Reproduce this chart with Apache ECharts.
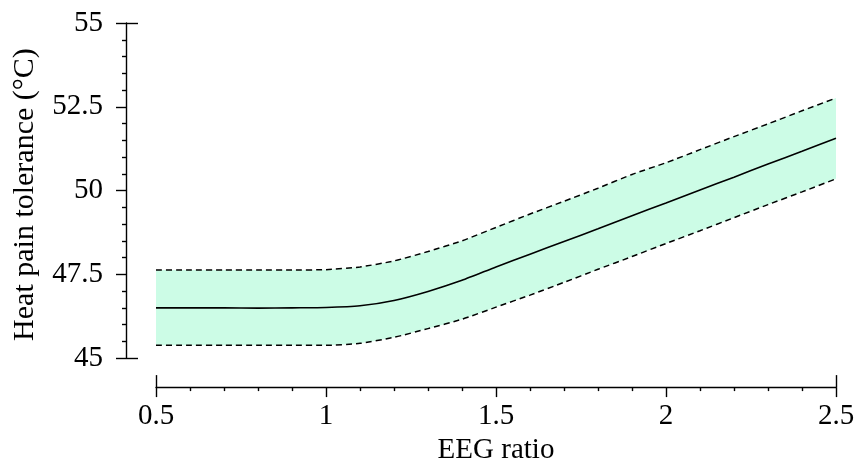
<!DOCTYPE html>
<html>
<head>
<meta charset="utf-8">
<script src="https://cdn.jsdelivr.net/npm/echarts@6/dist/echarts.min.js"></script>
<style>html,body{margin:0;padding:0;background:#fff;}#c{width:858px;height:470px;}</style>
</head>
<body>
<div id="c"></div>
<script>
// ---- data ----
const eegRatio = [0.5,0.6,0.7,0.8,0.9,1.0,1.1,1.2,1.3,1.4,1.5,1.6,1.7,1.8,1.9,2.0,2.1,2.2,2.3,2.4,2.5];
const fitMean  = [46.50,46.50,46.50,46.49,46.50,46.51,46.56,46.72,46.99,47.32,47.72,48.10,48.48,48.86,49.25,49.63,50.02,50.40,50.79,51.17,51.56];
const ciUpper  = [47.63,47.63,47.63,47.63,47.63,47.64,47.72,47.90,48.18,48.50,48.90,49.30,49.68,50.07,50.48,50.83,51.22,51.61,51.99,52.38,52.76];
const ciLower  = [45.38,45.38,45.38,45.38,45.38,45.38,45.44,45.62,45.88,46.16,46.52,46.88,47.26,47.65,48.03,48.42,48.80,49.19,49.58,49.96,50.35];
const xMin = 0.5, xMax = 2.5, xStep = 0.5;
const yMin = 45, yMax = 55, yStep = 2.5;
const xTitle = 'EEG ratio';
const yTitle = 'Heat pain tolerance (°C)';

const font = 'Liberation Serif';
const fs = 29;
const fsTitleY = 30;
const pair = (ys) => eegRatio.map((x, i) => [x, ys[i]]);

const lineCol = '#000';
const smoothAmt = 0.2;

const chart = echarts.init(document.getElementById('c'), null, {renderer: 'canvas'});
chart.setOption({
  animation: false,
  backgroundColor: '#fff',
  textStyle: {fontFamily: font},
  grid: {left: 156, right: 22, top: 23, bottom: 107, containLabel: false},
  xAxis: [{
    type: 'value', min: xMin, max: xMax, interval: xStep,
    position: 'bottom', offset: 29,
    name: xTitle, nameLocation: 'middle', nameGap: 48,
    nameTextStyle: {fontFamily: font, fontSize: fs, color: '#000'},
    axisLine: {show: true, onZero: false, lineStyle: {color: lineCol, width: 1.4}},
    axisTick: {show: true, inside: false, length: 10, lineStyle: {color: lineCol, width: 1.4}},
    minorTick: {show: true, splitNumber: 5, length: 4, lineStyle: {color: lineCol, width: 1.4}},
    axisLabel: {margin: 15, fontFamily: font, fontSize: fs, color: '#000'},
    splitLine: {show: false}, minorSplitLine: {show: false}
  }, {
    type: 'value', min: xMin, max: xMax, interval: xStep,
    position: 'bottom', offset: 29,
    axisLine: {show: false},
    axisTick: {show: true, inside: true, length: 12, customValues: [xMin, xMax], lineStyle: {color: lineCol, width: 1.4}},
    axisLabel: {show: false}, splitLine: {show: false}
  }],
  yAxis: [{
    type: 'value', min: yMin, max: yMax, interval: yStep,
    position: 'left', offset: 30,
    name: yTitle, nameLocation: 'middle', nameGap: 86, nameRotate: 90,
    nameTextStyle: {fontFamily: font, fontSize: fsTitleY, color: '#000', padding: [0, 8, 0, 0]},
    axisLine: {show: true, onZero: false, lineStyle: {color: lineCol, width: 1.4}},
    axisTick: {show: true, inside: false, length: 10, lineStyle: {color: lineCol, width: 1.4}},
    minorTick: {show: true, splitNumber: 5, length: 4, lineStyle: {color: lineCol, width: 1.4}},
    axisLabel: {margin: 23, fontFamily: font, fontSize: fs, color: '#000'},
    splitLine: {show: false}, minorSplitLine: {show: false}
  }, {
    type: 'value', min: yMin, max: yMax, interval: yStep,
    position: 'left', offset: 30,
    axisLine: {show: false},
    axisTick: {show: true, inside: true, length: 12, customValues: [yMin, yMax], lineStyle: {color: lineCol, width: 1.4}},
    axisLabel: {show: false}, splitLine: {show: false}
  }],
  series: [
    {type: 'line', name: 'bandTop', data: pair(ciUpper), smooth: smoothAmt,
     showSymbol: false, symbol: 'none', lineStyle: {width: 0, opacity: 0},
     areaStyle: {color: '#ccfce6', opacity: 1, origin: 'start'}, silent: true, z: 1},
    {type: 'line', name: 'bandBottom', data: pair(ciLower), smooth: smoothAmt,
     showSymbol: false, symbol: 'none', lineStyle: {width: 0, opacity: 0},
     areaStyle: {color: '#ffffff', opacity: 1, origin: 'start'}, silent: true, z: 1},
    {type: 'line', name: 'upper', data: pair(ciUpper), smooth: smoothAmt,
     showSymbol: false, symbol: 'none', lineStyle: {color: '#000', width: 1.5, type: [6, 4]}, z: 3},
    {type: 'line', name: 'lower', data: pair(ciLower), smooth: smoothAmt,
     showSymbol: false, symbol: 'none', lineStyle: {color: '#000', width: 1.5, type: [6, 4]}, z: 3},
    {type: 'line', name: 'mean', data: pair(fitMean), smooth: smoothAmt,
     showSymbol: false, symbol: 'none', lineStyle: {color: '#000', width: 1.6}, z: 3}
  ]
});
</script>
</body>
</html>
